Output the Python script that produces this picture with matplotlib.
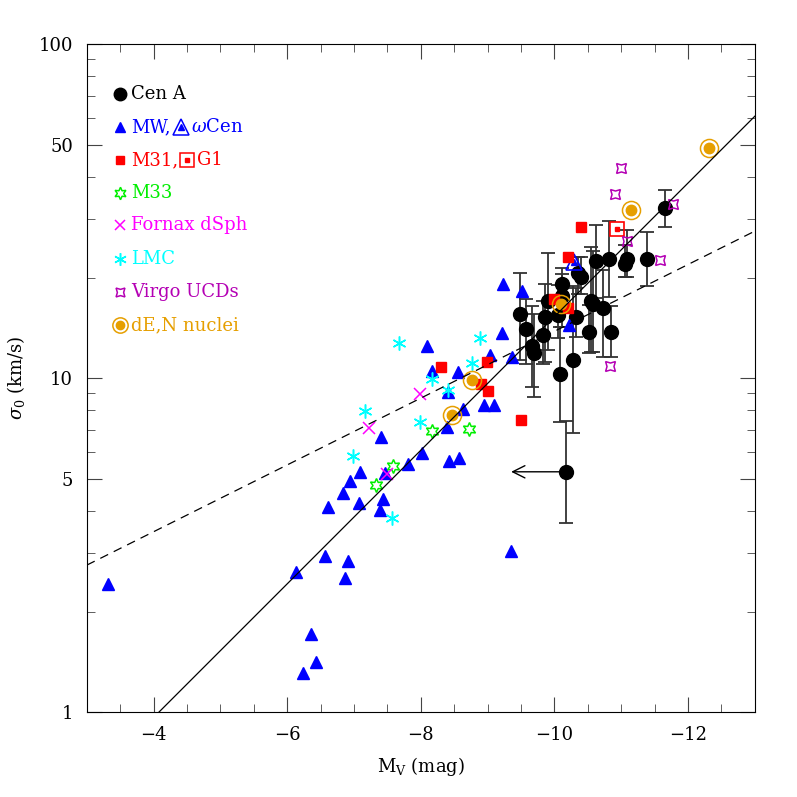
import matplotlib
matplotlib.use('Agg')
import matplotlib.pyplot as plt
import numpy as np

plt.rcParams['font.family'] = 'DejaVu Serif'
plt.rcParams['mathtext.fontset'] = 'dejavuserif'

# Cen A globular clusters (with error bars)
cena_mv = [-11.66, -11.39, -11.09, -11.05, -10.81, -10.62, -10.35, -10.40, -10.11, -10.11,
           -9.90, -9.48, -9.57, -9.86, -9.83, -9.67, -9.70, -10.06, -10.32, -10.54,
           -10.58, -10.73, -10.52, -10.84, -10.28, -10.08, -10.17]
cena_sig = [32.4, 22.7, 22.7, 21.9, 22.8, 22.4, 20.6, 20.1, 19.1, 17.6,
            17.0, 15.6, 14.0, 15.2, 13.5, 12.5, 11.9, 15.4, 15.2, 17.0,
            16.7, 16.2, 13.7, 13.7, 11.35, 10.26, 5.24]
cena_lo = [28.3, 18.8, 20.1, 20.1, 17.5, 17.4, 17.9, 17.9, 16.0, 14.2,
           12.1, 11.3, 11.0, 11.2, 11.0, 9.4, 8.8, 13.2, 13.3, 12.0,
           12.0, 11.6, 11.9, 11.6, 6.85, 7.4, 3.67]
cena_hi = [36.6, 27.3, 27.8, 25.0, 29.5, 28.7, 23.1, 23.1, 21.3, 20.5,
           23.7, 20.6, 17.3, 19.1, 17.0, 16.4, 15.5, 19.0, 18.6, 24.7,
           24.0, 21.1, 16.5, 16.4, 18.8, 14.2, 7.44]
upper_limit_mv = -10.17
upper_limit_sig = 5.24
upper_limit_to = -9.31

mw_mv = [-3.31, -6.13, -6.56, -6.91, -6.87, -6.36, -6.43, -6.24, -6.61, -6.83,
         -6.94, -7.09, -7.07, -7.41, -7.46, -7.44, -7.39, -7.81, -8.01, -8.09,
         -8.17, -8.39, -8.40, -8.55, -8.63, -8.42, -8.57, -8.94, -9.09, -9.03,
         -9.21, -9.35, -9.23, -9.52, -9.37, -10.22]
mw_sig = [2.42, 2.62, 2.93, 2.83, 2.52, 1.71, 1.41, 1.31, 4.12, 4.54,
          4.93, 5.24, 4.24, 6.64, 5.21, 4.33, 4.03, 5.53, 5.95, 12.5,
          10.47, 7.15, 9.06, 10.42, 8.06, 5.65, 5.75, 8.28, 8.28, 11.74,
          13.6, 3.03, 19.1, 18.2, 11.6, 14.4]
omegacen_mv = [-10.30]
omegacen_sig = [22.3]

m31_mv = [-8.30, -8.99, -8.90, -9.00, -9.50, -10.40, -10.20, -9.99, -10.20]
m31_sig = [10.76, 11.2, 9.6, 9.16, 7.48, 28.4, 23.1, 17.2, 16.2]
g1_mv = [-10.94]
g1_sig = [27.9]

m33_mv = [-7.33, -7.59, -8.16, -8.72]
m33_sig = [4.79, 5.45, 6.95, 7.05]

fornax_mv = [-7.22, -7.99, -7.49]
fornax_sig = [7.11, 8.96, 5.16]

lmc_mv = [-7.67, -7.16, -6.99, -7.57, -7.99, -8.17, -8.40, -8.76, -8.89]
lmc_sig = [12.7, 7.95, 5.84, 3.82, 7.37, 9.91, 9.2, 11.1, 13.2]

ucd_mv = [-11.00, -10.91, -11.78, -11.08, -11.58, -10.83]
ucd_sig = [42.7, 35.6, 33.1, 25.7, 22.5, 10.9]

den_mv = [-12.32, -11.15, -10.10, -8.77, -8.46]
den_sig = [48.9, 31.8, 16.7, 9.86, 7.73]

# relations: log sigma = slope * (-Mv) + zp
fit_solid = (0.2, -0.816)
fit_dashed = (0.1, 0.14)

ORANGE = '#E69F00'
PURPLE = '#B400B4'
hexstar = (6, 1, 0)
astr = (6, 2, 0)
ucdmark = (4, 1, 45)

fig = plt.figure(figsize=(7.97, 7.97), dpi=100)
ax = fig.add_axes([0.109, 0.1066, 0.8381, 0.8381])
ax.set_yscale('log')
ax.set_xlim(-3, -13)
ax.set_ylim(1, 100)

# lines
xx = np.array([-3, -13])
ax.plot(xx, 10 ** (fit_solid[0] * -xx + fit_solid[1]), 'k-', lw=0.9, zorder=6)
ax.plot(xx, 10 ** (fit_dashed[0] * -xx + fit_dashed[1]), 'k', ls=(0, (7, 5)), lw=0.9, zorder=6)

# Cen A
sig = np.array(cena_sig)
yerr = [sig - np.array(cena_lo), np.array(cena_hi) - sig]
ax.errorbar(cena_mv, cena_sig, yerr=yerr, fmt='o', color='k', ms=10,
            ecolor='#333333', elinewidth=1.3, capsize=5, capthick=1.3, zorder=3)
ax.annotate('', xy=(upper_limit_to, upper_limit_sig), xytext=(upper_limit_mv, upper_limit_sig),
            arrowprops=dict(arrowstyle='->', color='k', lw=1, mutation_scale=22), zorder=4)

ax.plot(mw_mv, mw_sig, '^', color='blue', ms=9, ls='none', zorder=4)
ax.plot(omegacen_mv, omegacen_sig, '^', mfc='none', mec='blue', mew=1.2, ms=12, ls='none', zorder=4)
ax.plot(omegacen_mv, omegacen_sig, '^', color='blue', ms=5, ls='none', zorder=4)
ax.plot(m31_mv, m31_sig, 's', color='red', ms=7.5, ls='none', zorder=4)
ax.plot(g1_mv, g1_sig, 's', mfc='none', mec='red', mew=1.2, ms=10.5, ls='none', zorder=4)
ax.plot(g1_mv, g1_sig, 's', color='red', ms=3.5, ls='none', zorder=4)
ax.plot(m33_mv, m33_sig, marker=hexstar, mfc='none', mec='#00ee00', mew=1.1, ms=10, ls='none', zorder=4)
ax.plot(fornax_mv, fornax_sig, 'x', color='magenta', ms=8, mew=1.1, ls='none', zorder=4)
ax.plot(lmc_mv, lmc_sig, marker=astr, color='cyan', mec='cyan', ms=10, mew=1.1, ls='none', zorder=4)
ax.plot(ucd_mv, ucd_sig, marker=ucdmark, mfc='none', mec=PURPLE, mew=1.1, ms=10, ls='none', zorder=4)
ax.plot(den_mv, den_sig, 'o', color=ORANGE, ms=7.5, ls='none', zorder=5)
ax.plot(den_mv, den_sig, 'o', mfc='none', mec=ORANGE, mew=1.1, ms=13, ls='none', zorder=5)

# ticks
ax.set_xticks([-4, -6, -8, -10, -12])
ax.set_xticks(np.arange(-3, -13.01, -0.5), minor=True)
ax.set_yticks([1, 5, 10, 50, 100])
ax.set_yticklabels(['1', '5', '10', '50', '100'])
ax.set_yticks([2, 3, 4, 6, 7, 8, 9, 20, 30, 40, 60, 70, 80, 90], minor=True)
ax.yaxis.set_minor_formatter(plt.NullFormatter())
ax.tick_params(which='both', direction='in', top=True, right=True, color='#444444')
ax.tick_params(which='major', length=11, labelsize=13, pad=10)
ax.tick_params(which='minor', length=6)
ax.set_xlabel(r'M$_{\rm V}$ (mag)', fontsize=13, labelpad=8)
ax.set_ylabel(r'$\sigma_0$ (km/s)', fontsize=13, labelpad=8)

# legend drawn by hand
fig.canvas.draw()
rend = fig.canvas.get_renderer()
mx, tx = 0.049, 0.066
rows = [0.925, 0.876, 0.826, 0.777, 0.729, 0.678, 0.629, 0.579]
kw = dict(transform=ax.transAxes, clip_on=False, zorder=7, ls='none')


def put_text(x, y, s, color):
    t = ax.text(x, y, s, color=color, transform=ax.transAxes, va='center', ha='left', fontsize=13)
    bb = t.get_window_extent(renderer=rend)
    return ax.transAxes.inverted().transform((bb.x1, bb.y0))[0]


ax.plot(mx, rows[0], 'o', color='k', ms=9, **kw)
put_text(tx, rows[0], 'Cen A', 'k')

ax.plot(mx, rows[1], '^', color='blue', ms=7, **kw)
xe = put_text(tx, rows[1], 'MW,', 'blue')
ax.plot(xe + 0.016, rows[1], '^', mfc='none', mec='blue', mew=1.1, ms=11, **kw)
ax.plot(xe + 0.016, rows[1], '^', color='blue', ms=4, **kw)
put_text(xe + 0.031, rows[1], r'$\omega$Cen', 'blue')

ax.plot(mx, rows[2], 's', color='red', ms=6, **kw)
xe = put_text(tx, rows[2], 'M31,', 'red')
ax.plot(xe + 0.014, rows[2], 's', mfc='none', mec='red', mew=1.1, ms=10, **kw)
ax.plot(xe + 0.014, rows[2], 's', color='red', ms=3.5, **kw)
put_text(xe + 0.028, rows[2], 'G1', 'red')

ax.plot(mx, rows[3], marker=hexstar, mfc='none', mec='#00ee00', mew=1.1, ms=9, **kw)
put_text(tx, rows[3], 'M33', '#00ee00')

ax.plot(mx, rows[4], 'x', color='magenta', ms=7, mew=1.1, **kw)
put_text(tx, rows[4], 'Fornax dSph', 'magenta')

ax.plot(mx, rows[5], marker=astr, color='cyan', mec='cyan', ms=9, mew=1.1, **kw)
put_text(tx, rows[5], 'LMC', 'cyan')

ax.plot(mx, rows[6], marker=ucdmark, mfc='none', mec=PURPLE, mew=1.1, ms=9, **kw)
put_text(tx, rows[6], 'Virgo UCDs', PURPLE)

ax.plot(mx, rows[7], 'o', color=ORANGE, ms=6, **kw)
ax.plot(mx, rows[7], 'o', mfc='none', mec=ORANGE, mew=1.1, ms=11, **kw)
put_text(tx, rows[7], 'dE,N nuclei', ORANGE)

fig.savefig('out.png', dpi=100)
